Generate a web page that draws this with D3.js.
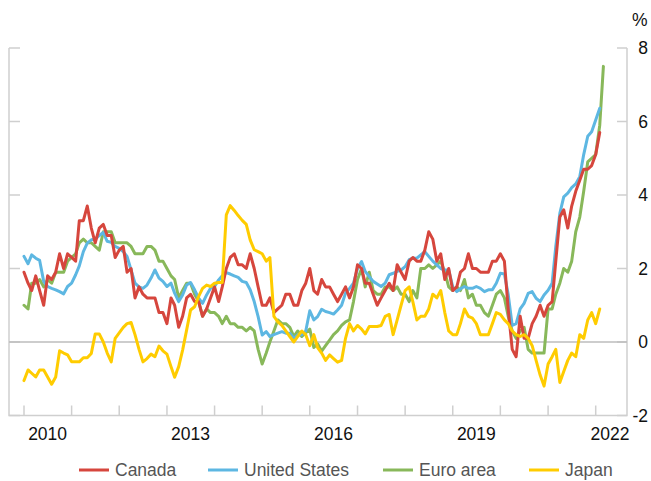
<!DOCTYPE html>
<html>
<head>
<meta charset="utf-8">
<script src="https://cdn.jsdelivr.net/npm/d3@7"></script>
<style>
  body { margin: 0; background: #fff; }
  svg { display: block; font-family: "Liberation Sans", Arial, Helvetica, sans-serif; }
  .series { fill: none; stroke-width: 3; stroke-linejoin: round; stroke-linecap: round; }
  .frame { stroke: #cfcfcf; stroke-width: 1.5; fill: none; }
  .zero { stroke: #bdbdbd; stroke-width: 1.5; }
  .tick-label { font-size: 17.5px; fill: #111; }
  .legend-label { font-size: 17.5px; fill: #555; }
</style>
</head>
<body>
<svg id="chart" width="651" height="481"></svg>
<script>
// Monthly, year-over-year %, starting January 2010
const canada = [
  1.9, 1.6, 1.4, 1.8, 1.4, 1.0, 1.8, 1.7, 1.9, 2.4, 2.0, 2.4,
  2.3, 2.2, 3.3, 3.3, 3.7, 3.1, 2.7, 3.1, 3.2, 2.9, 2.9, 2.3,
  2.5, 2.6, 1.9, 2.0, 1.2, 1.5, 1.3, 1.2, 1.2, 1.2, 0.8, 0.8,
  0.5, 1.2, 1.0, 0.4, 0.7, 1.2, 1.3, 1.1, 1.1, 0.7, 0.9, 1.2,
  1.5, 1.1, 1.5, 2.0, 2.3, 2.4, 2.1, 2.1, 2.0, 2.4, 2.0, 1.5,
  1.0, 1.0, 1.2, 0.8, 0.9, 1.0, 1.3, 1.3, 1.0, 1.0, 1.4, 1.6,
  2.0, 1.4, 1.3, 1.7, 1.5, 1.5, 1.3, 1.1, 1.3, 1.5, 1.2, 1.5,
  2.1, 2.0, 1.6, 1.6, 1.3, 1.0, 1.2, 1.4, 1.6, 1.4, 2.1, 1.9,
  1.7, 2.2, 2.3, 2.2, 2.2, 2.5, 3.0, 2.8, 2.2, 2.4, 1.7, 2.0,
  1.4, 1.5, 1.9, 2.0, 2.4, 2.0, 2.0, 1.9, 1.9, 1.9, 2.2, 2.2,
  2.4, 2.2, 0.9, -0.2, -0.4, 0.7, 0.1, 0.1, 0.5, 0.7, 1.0, 0.7,
  1.0, 1.1, 2.2, 3.4, 3.6, 3.1, 3.7, 4.1, 4.4, 4.7, 4.7, 4.8,
  5.1, 5.7
];

const unitedStates = [
  2.33, 2.13, 2.37, 2.28, 2.22, 1.65, 1.51, 1.46, 1.42, 1.37, 1.31, 1.51,
  1.6, 1.83, 2.07, 2.46, 2.69, 2.78, 2.8, 2.9, 2.98, 2.74, 2.71, 2.6,
  2.55, 2.46, 2.33, 1.96, 1.6, 1.5, 1.46, 1.55, 1.74, 1.96, 1.74, 1.65,
  1.51, 1.6, 1.33, 1.1, 1.28, 1.55, 1.62, 1.42, 1.19, 1.05, 1.28, 1.46,
  1.51, 1.69, 1.8, 1.89, 1.85, 1.8, 1.76, 1.65, 1.62, 1.42, 1.1, 0.69,
  0.19, 0.28, 0.15, 0.2, 0.24, 0.28, 0.24, 0.24, 0.1, 0.19, 0.2, 0.3,
  0.85, 0.6, 0.69, 0.89, 0.83, 0.8, 0.76, 0.87, 1.0, 1.33, 1.46, 1.6,
  2.0, 2.19, 1.92, 1.78, 1.65, 1.58, 1.51, 1.6, 1.83, 1.87, 1.92, 1.96,
  2.05, 2.24, 2.28, 2.28, 2.37, 2.46, 2.33, 2.2, 2.1, 2.0, 1.96, 1.96,
  1.5, 1.37, 1.45, 1.51, 1.46, 1.46, 1.51, 1.46, 1.37, 1.42, 1.42, 1.6,
  1.87, 1.85, 1.3, 0.45, 0.5, 0.9, 1.05, 1.32, 1.37, 1.19, 1.1, 1.28,
  1.41, 1.6, 2.6, 3.5, 3.95, 4.05, 4.2, 4.3, 4.5, 5.1, 5.6, 5.72,
  6.04, 6.36
];

const euroArea = [
  1.0, 0.9, 1.6, 1.6, 1.7, 1.5, 1.7, 1.6, 1.9, 1.9, 1.9, 2.2,
  2.3, 2.4, 2.7, 2.8, 2.7, 2.7, 2.6, 2.5, 3.0, 3.0, 3.0, 2.7,
  2.7, 2.7, 2.7, 2.6, 2.4, 2.4, 2.4, 2.6, 2.6, 2.5, 2.2, 2.2,
  2.0, 1.8, 1.7, 1.2, 1.4, 1.6, 1.6, 1.3, 1.1, 0.7, 0.9, 0.8,
  0.8, 0.7, 0.5, 0.7, 0.5, 0.5, 0.4, 0.4, 0.3, 0.4, 0.3, -0.2,
  -0.6, -0.3, 0.0, 0.3, 0.6, 0.5, 0.5, 0.4, 0.15, 0.3, 0.15, 0.25,
  0.35, -0.15, -0.05, -0.25, -0.1, 0.05, 0.2, 0.3, 0.45, 0.55, 0.6, 1.1,
  1.7, 2.0, 1.5, 1.9, 1.4, 1.3, 1.3, 1.5, 1.5, 1.4, 1.5, 1.3,
  1.3, 1.1, 1.4, 1.2, 2.0, 2.0, 2.1, 2.0, 2.1, 2.2, 1.9, 1.5,
  1.4, 1.5, 1.4, 1.7, 1.2, 1.3, 1.0, 1.0, 0.8, 0.7, 1.0, 1.3,
  1.4, 1.2, 0.7, 0.3, 0.1, 0.3, 0.4, -0.2, -0.3, -0.3, -0.3, -0.3,
  0.9, 0.9, 1.3, 1.6, 2.0, 1.9, 2.2, 3.0, 3.4, 4.1, 4.9, 5.0,
  5.1, 5.9, 7.5
];

const japan = [
  -1.05, -0.76, -0.85, -0.95, -0.76, -0.76, -0.95, -1.15, -0.95, -0.24, -0.3, -0.35,
  -0.54, -0.54, -0.54, -0.43, -0.43, -0.31, 0.22, 0.22, 0.0, -0.3, -0.54, 0.1,
  0.25, 0.4, 0.5, 0.53, 0.2, -0.2, -0.54, -0.45, -0.33, -0.4, -0.11, -0.24,
  -0.33, -0.67, -0.96, -0.67, -0.22, 0.33, 0.87, 0.96, 1.24, 1.46, 1.55, 1.51,
  1.6, 1.62, 1.62, 3.46, 3.71, 3.58, 3.44, 3.31, 3.2, 2.78, 2.51, 2.46,
  2.4, 2.2, 2.3, 0.7, 0.55, 0.45, 0.3, 0.15, 0.0, 0.15, 0.3, 0.2,
  -0.1, 0.2, -0.15, -0.3, -0.5, -0.35, -0.45, -0.55, -0.5, 0.1, 0.5, 0.3,
  0.45, 0.35, 0.22, 0.42, 0.42, 0.42, 0.45, 0.7, 0.75, 0.2, 0.6, 1.0,
  1.4, 1.5, 1.1, 0.6, 0.7, 0.7, 0.9, 1.3, 1.2, 1.4, 0.8, 0.3,
  0.2, 0.2, 0.5, 0.9, 0.7, 0.65, 0.5, 0.2, 0.2, 0.2, 0.5, 0.8,
  0.75, 0.6, 0.5, 0.3, 0.2, 0.15, 0.2, 0.1, -0.1, -0.5, -0.9, -1.2,
  -0.6, -0.4, -0.2, -1.1, -0.8, -0.5, -0.3, -0.4, 0.2, 0.1, 0.6, 0.8,
  0.5, 0.9
];

const seriesNames = ['Canada', 'United States', 'Euro area', 'Japan'];
const seriesColors = ['#d6463d', '#5db7e2', '#88b85a', '#ffcc00'];
const yTicks = [-2, 0, 2, 4, 6, 8];
const xTickYears = d3.range(2010, 2023);
const xLabelYears = [2010, 2013, 2016, 2019, 2022];

const svg = d3.select('#chart');
const plotL = 9, plotR = 627, plotT = 48, plotB = 415.5;

const x = d3.scaleTime()
  .domain([new Date(2010, 0, 1), new Date(2022, 0, 1)])
  .range([24, 595.7]);
const y = d3.scaleLinear().domain([-2, 8]).range([plotB, plotT]);

const monthDate = i => new Date(2010, i, 1);

// frame: left line, bottom line, right axis line
svg.append('path').attr('class', 'frame')
  .attr('d', `M${plotL},${plotT}V${plotB}H${plotR}V${plotT}`);

// tick marks on both sides, labels right-aligned so "-2" stays on the page
yTicks.forEach(t => {
  svg.append('line').attr('class', 'frame')
    .attr('x1', plotL).attr('x2', plotL + 11).attr('y1', y(t)).attr('y2', y(t));
  svg.append('line').attr('class', 'frame')
    .attr('x1', plotR - 10).attr('x2', plotR).attr('y1', y(t)).attr('y2', y(t));
  svg.append('text').attr('class', 'tick-label')
    .attr('x', 648).attr('y', y(t)).attr('dy', '0.36em')
    .attr('text-anchor', 'end')
    .text(t);
});
svg.append('text').attr('class', 'tick-label')
  .attr('x', plotR + 5).attr('y', 20).attr('dy', '0.36em').text('%');

xTickYears.forEach(yr => {
  const px = x(new Date(yr, 0, 1));
  svg.append('line').attr('class', 'frame')
    .attr('x1', px).attr('x2', px).attr('y1', plotB).attr('y2', plotB - 10);
});
// year labels sit mid-year, the last one pulled in to stay inside the page
xLabelYears.forEach(yr => {
  const cx = Math.min(x(new Date(yr, 6, 1)), 610);
  svg.append('text').attr('class', 'tick-label')
    .attr('x', cx).attr('y', 434).attr('dy', '0.36em')
    .attr('text-anchor', 'middle').text(yr);
});

// zero line
svg.append('line').attr('class', 'zero')
  .attr('x1', plotL).attr('x2', plotR).attr('y1', y(0)).attr('y2', y(0));

const line = d3.line()
  .x((d, i) => x(monthDate(i)))
  .y(d => y(d));

const data = [canada, unitedStates, euroArea, japan];
[2, 1, 0, 3].forEach(k => {
  svg.append('path')
    .datum(data[k])
    .attr('class', 'series')
    .attr('stroke', seriesColors[k])
    .attr('d', line);
});

// legend
const legendX = [79, 208, 383, 529];
seriesNames.forEach((name, k) => {
  const g = svg.append('g').attr('transform', `translate(${legendX[k]},470)`);
  g.append('line').attr('x1', 0).attr('x2', 30).attr('y1', 0).attr('y2', 0)
    .attr('stroke', seriesColors[k]).attr('stroke-width', 3);
  g.append('text').attr('class', 'legend-label')
    .attr('x', 36).attr('dy', '0.36em').text(name);
});
</script>
</body>
</html>
